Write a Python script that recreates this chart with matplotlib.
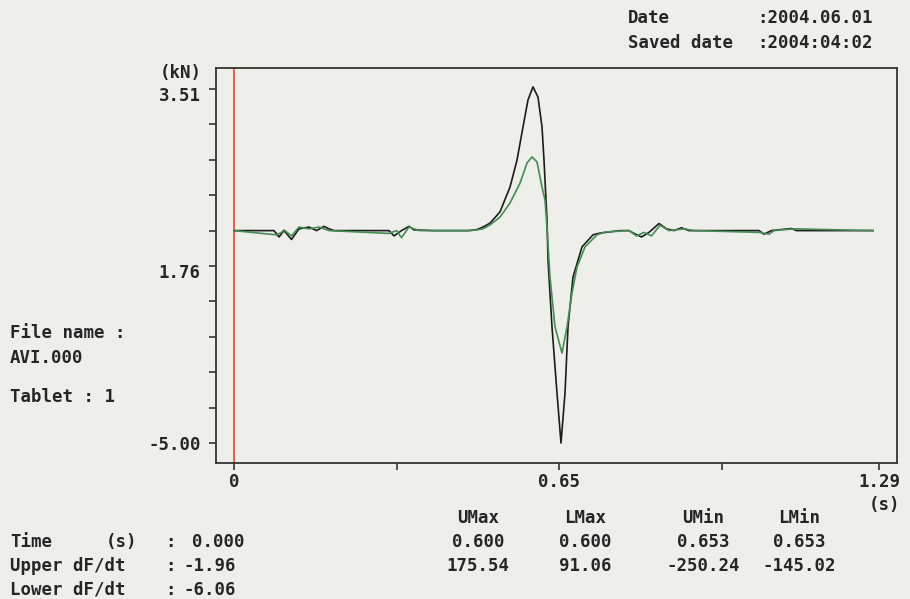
import matplotlib
matplotlib.use("Agg")
import matplotlib.pyplot as plt
from matplotlib.transforms import ScaledTranslation

# ---------------- data ----------------
t_upper = [0.0, 0.080, 0.090, 0.100, 0.115, 0.130, 0.150, 0.165, 0.180, 0.190, 0.200,
           0.310, 0.320, 0.335, 0.350, 0.360, 0.400, 0.470, 0.486, 0.498, 0.512, 0.532,
           0.552, 0.566, 0.578, 0.588, 0.598, 0.608, 0.616, 0.620, 0.626, 0.628, 0.636,
           0.646, 0.654, 0.662, 0.668, 0.678, 0.696, 0.718, 0.732, 0.772, 0.790, 0.800,
           0.815, 0.830, 0.850, 0.865, 0.880, 0.895, 0.910, 1.050, 1.060, 1.075, 1.115,
           1.125, 1.278]
upper = [6.0, 6.0, 5.82, 6.0, 5.75, 6.05, 6.10, 6.0, 6.12, 6.05, 6.0,
         6.0, 5.85, 6.0, 6.12, 6.02, 6.0, 6.0, 6.03, 6.10, 6.21, 6.53,
         7.23, 7.99, 8.93, 9.69, 10.06, 9.77, 8.93, 7.99, 6.30, 5.17, 3.28,
         1.41, 0.0, 1.41, 3.28, 4.69, 5.54, 5.88, 5.93, 6.0, 6.0, 5.92,
         5.82, 5.95, 6.2, 6.05, 6.0, 6.08, 6.0, 6.0, 5.9, 6.0, 6.06,
         6.0, 6.0]

t_lower = [0.0, 0.085, 0.095, 0.100, 0.115, 0.130, 0.150, 0.170, 0.190, 0.310, 0.325,
           0.335, 0.350, 0.370, 0.470, 0.486, 0.498, 0.512, 0.532, 0.552, 0.572, 0.586,
           0.596, 0.606, 0.616, 0.622, 0.626, 0.632, 0.642, 0.656, 0.666, 0.676, 0.686,
           0.702, 0.726, 0.742, 0.790, 0.805, 0.820, 0.835, 0.852, 0.870, 0.900, 0.920,
           1.050, 1.070, 1.080, 1.120, 1.278]
lower = [6.0, 5.88, 5.95, 6.02, 5.85, 6.10, 6.05, 6.10, 6.0, 5.92, 6.0,
         5.80, 6.10, 6.0, 6.0, 6.02, 6.05, 6.16, 6.38, 6.78, 7.34, 7.91,
         8.08, 7.94, 7.23, 6.86, 6.10, 4.69, 3.28, 2.54, 3.28, 4.24, 4.97,
         5.54, 5.88, 5.96, 6.0, 5.85, 5.95, 5.85, 6.15, 6.0, 6.05, 6.0,
         5.95, 5.9, 6.0, 6.05, 6.0]

x_ticks = [0.0, 0.325, 0.65, 0.975, 1.29]
x_tick_labels = ["0", "", "0.65", "", "1.29"]
y_ticks = list(range(11))
y_tick_labels = ["-5.00", "", "", "", "", "1.76", "", "", "", "", "3.51"]

col_headers = ["UMax", "LMax", "UMin", "LMin"]
row_time = ["0.600", "0.600", "0.653", "0.653"]
row_dfdt = ["175.54", "91.06", "-250.24", "-145.02"]

# ---------------- style ----------------
W, H = 910, 599
BG = "#eeeeeb"
TXT = "#262626"
FS = 12.5
FONT = dict(family="DejaVu Sans Mono", weight="bold", size=FS, color=TXT)

fig = plt.figure(figsize=(W / 100, H / 100), dpi=100, facecolor=BG)

def px(x, y):
    return x / W, 1 - y / H

L, R, T, B = 216, 897, 68, 463
ax = fig.add_axes([L / W, 1 - B / H, (R - L) / W, (B - T) / H], facecolor=BG)

ax.plot(t_upper, upper, color="#1c1c1c", lw=1.2, zorder=3)
ax.plot(t_lower, lower, color="#468c55", lw=1.2, zorder=4)
ax.axvline(0.0, color="#e4553f", lw=1.3, zorder=2)

ax.set_xlim((L - 234) / 500, (R - 234) / 500)
ax.set_ylim((443 - B) / 35.4, (443 - T) / 35.4)

ax.set_xticks(x_ticks)
ax.set_xticklabels(x_tick_labels)
ax.set_yticks(y_ticks)
ax.set_yticklabels(y_tick_labels)
ax.tick_params(direction="out", length=5, width=1.2, color="#333333")
ax.tick_params(axis="y", pad=6)
ax.tick_params(axis="x", pad=2)
for lab in ax.get_xticklabels() + ax.get_yticklabels():
    lab.set_fontfamily("DejaVu Sans Mono")
    lab.set_fontweight("bold")
    lab.set_fontsize(FS)
    lab.set_color(TXT)
# upper y labels sit slightly below their ticks in the reference
ylabs = ax.get_yticklabels()
for i in (5, 10):
    ylabs[i].set_transform(ylabs[i].get_transform() +
                           ScaledTranslation(0, -5 / 100, fig.dpi_scale_trans))
for s in ax.spines.values():
    s.set_color("#333333")
    s.set_linewidth(1.3)

def put(x, y, s, ha="left"):
    fig.text(*px(x, y), s, ha=ha, va="center", **FONT)

# header
put(628, 18, "Date")
put(757, 18, ":2004.06.01")
put(628, 43, "Saved date")
put(757, 43, ":2004:04:02")

put(202, 73, "(kN)", ha="right")
put(885, 505, "(s)", ha="center")

# left side info
put(10, 333, "File name :")
put(10, 358, "AVI.000")
put(10, 397, "Tablet : 1")

# bottom-left readouts
put(10, 542, "Time")
put(106, 542, "(s)")
put(165, 542, ":")
put(192, 542, "0.000")
put(10, 566, "Upper dF/dt")
put(165, 566, ":")
put(184, 566, "-1.96")
put(10, 590, "Lower dF/dt")
put(165, 590, ":")
put(184, 590, "-6.06")

# bottom-right table
col_x = [478, 585, 703, 799]
for cx, h, a, b in zip(col_x, col_headers, row_time, row_dfdt):
    put(cx, 518, h, ha="center")
    put(cx, 542, a, ha="center")
    put(cx, 566, b, ha="center")

fig.savefig("out.png", dpi=100, facecolor=BG)
